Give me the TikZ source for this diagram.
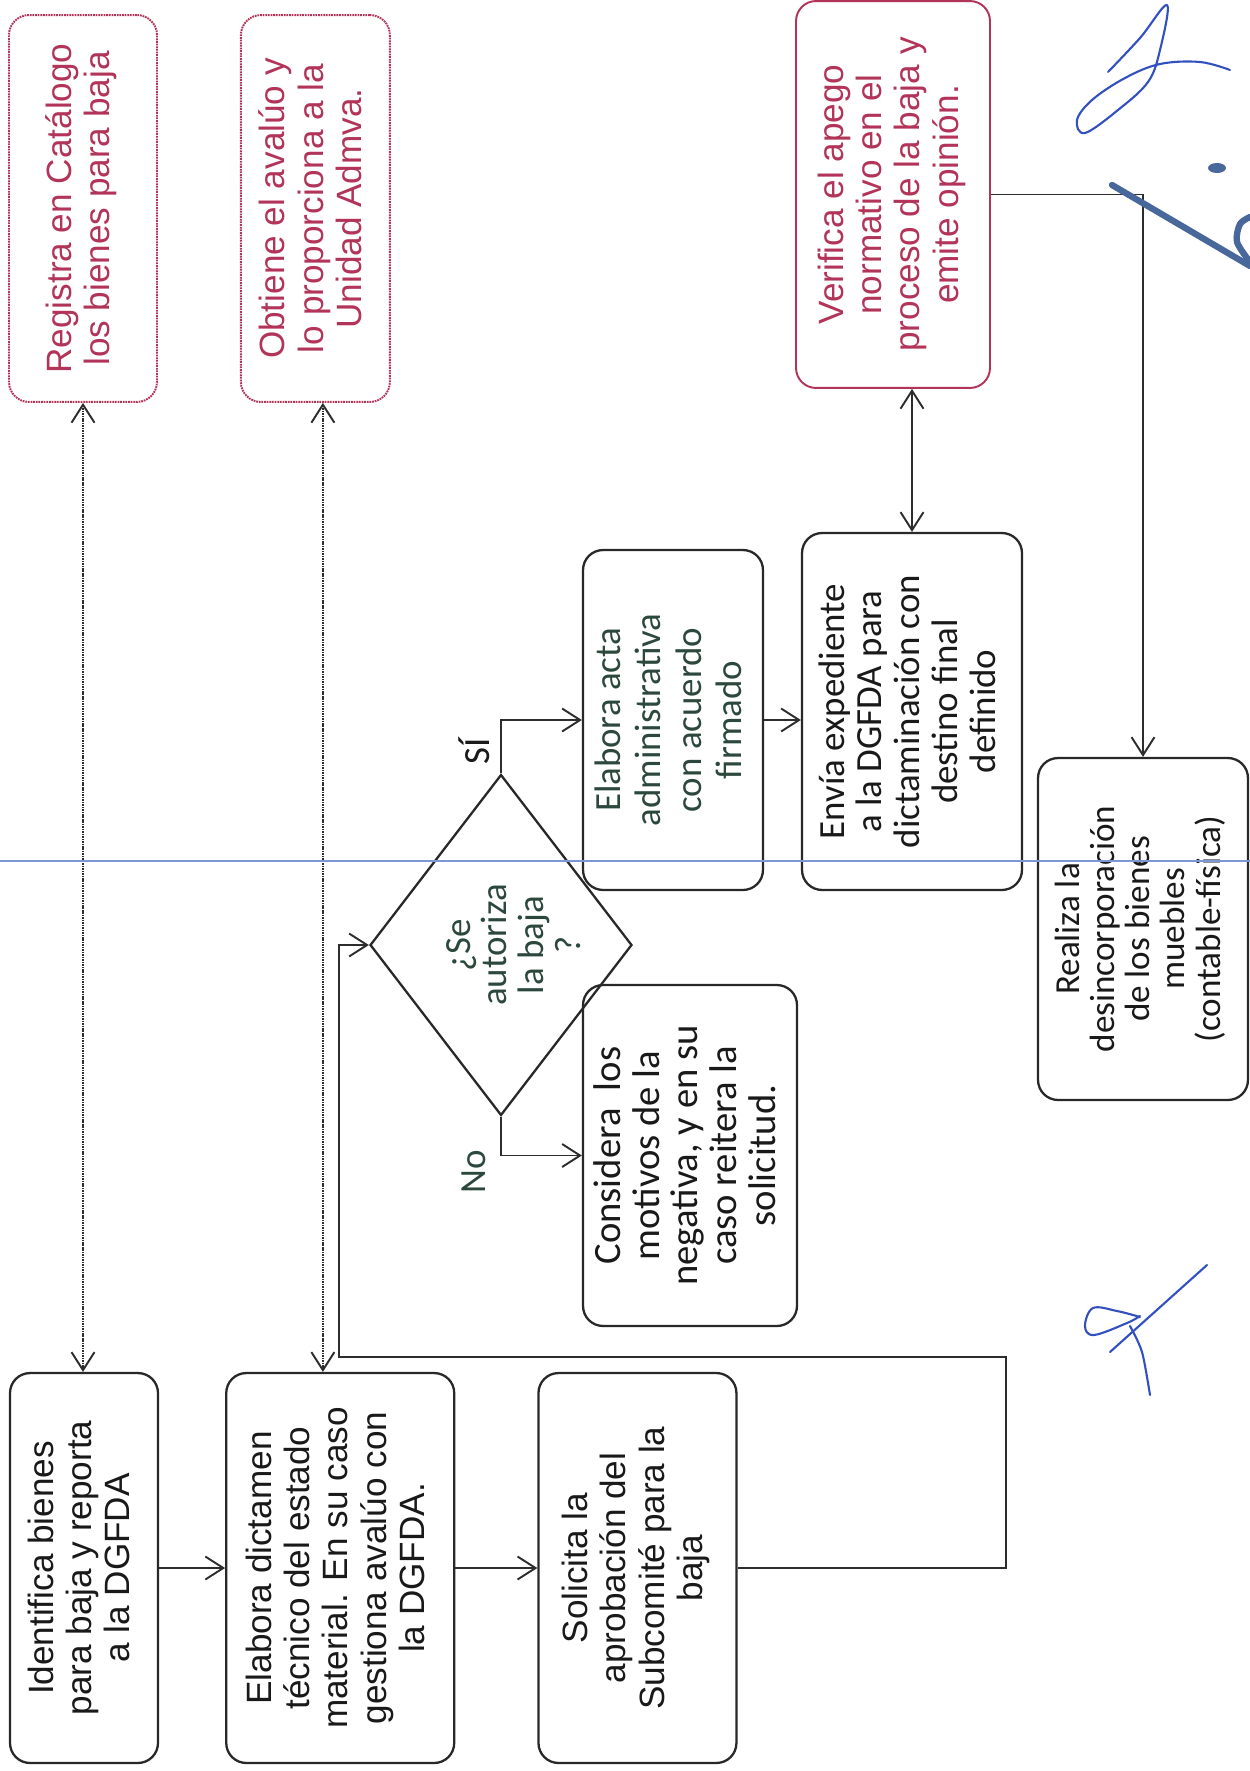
\documentclass[tikz,border=0pt]{standalone}
\usepackage{fontspec}
\setmainfont{Liberation Sans}
\newfontfamily\calibfont{Carlito}
\usepackage{graphicx}
\usetikzlibrary{positioning, arrows.meta, shapes.geometric}
\definecolor{rojo}{RGB}{178,52,88}
\definecolor{borde}{RGB}{40,40,40}
\definecolor{tinta}{RGB}{25,25,25}
\definecolor{verdeosc}{RGB}{44,72,60}
\definecolor{linea}{RGB}{45,45,45}
\definecolor{guia}{RGB}{125,150,215}
\definecolor{firma}{RGB}{50,80,190}
\definecolor{firmab}{RGB}{72,104,155}
\newcommand{\vtxt}[1]{\rotatebox{90}{\begin{tabular}{@{}c@{}}#1\end{tabular}}}
\tikzset{
  redbox/.style   = {draw=rojo, line width=1.1pt, rounded corners=0.4cm, text=rojo, inner sep=0pt, font={\fontsize{20}{21.8}\selectfont}},
  reddot/.style   = {redbox, dash pattern=on 1pt off 0.5pt},
  procbox/.style  = {draw=borde, line width=1.3pt, rounded corners=0.4cm, text=tinta, inner sep=0pt, font={\fontsize{20}{21.8}\selectfont}},
  procboxc/.style = {procbox, font={\calibfont\fontsize{21}{21.5}\selectfont}},
  decision/.style = {draw=borde, line width=1.3pt, diamond, inner sep=0pt, minimum width=5.24cm, minimum height=6.82cm},
  dectext/.style  = {text=verdeosc, inner sep=0pt, font={\calibfont\fontsize{21}{21}\selectfont}},
  lbl/.style      = {text=tinta, inner sep=0pt, font={\calibfont\fontsize{21}{21}\selectfont}},
  arrow/.style    = {-{Straight Barb[length=0.36cm, width=0.46cm]}, draw=linea, line width=1.1pt},
  dotarrow/.style = {{Straight Barb[length=0.36cm, width=0.46cm]}-{Straight Barb[length=0.36cm, width=0.46cm]}, draw=linea, line width=1.1pt, dash pattern=on 0.9pt off 0.5pt},
  sig/.style      = {draw=firma, line width=1.2pt, line cap=round, line join=round}
}

\begin{document}
\begin{tikzpicture}[x=0.02cm, y=-0.02cm]
  \useasboundingbox (0,0) rectangle (1250,1771);

  % top row
  \node[reddot, minimum width=2.96cm, minimum height=7.74cm] (registra) at (83,208.5) {\vtxt{Registra en Catálogo\\los bienes para baja}};
  \node[reddot, minimum width=2.98cm, minimum height=7.74cm, right=1.64cm of registra] (obtiene) {\vtxt{Obtiene el avalúo y\\lo proporciona a la\\Unidad Admva.}};
  \node[redbox, minimum width=3.88cm, minimum height=7.74cm] (verifica) at (893,194.5) {\vtxt{Verifica el apego\\normativo en el\\proceso de la baja y\\emite opinión.}};

  % bottom row
  \node[procbox, minimum width=2.96cm, minimum height=7.8cm] (identifica) at (84,1568) {\vtxt{Identifica bienes\\para baja y reporta\\a la DGFDA}};
  \node[procbox, minimum width=4.56cm, minimum height=7.8cm, right=1.32cm of identifica] (dictamen) {\vtxt{Elabora  dictamen\\técnico del estado\\material.  En su caso\\gestiona avalúo con\\la DGFDA.}};
  \node[procbox, minimum width=3.96cm, minimum height=7.8cm, right=1.64cm of dictamen] (solicita) {\vtxt{Solicita la\\aprobación del\\Subcomité para la\\baja}};

  % decision and branches
  \node[decision] (autoriza) at (501,945) {};
  \node[dectext] (autorizatxt) at (518,945) {\vtxt{¿Se\\autoriza\\la baja\\?}};
  \node[procboxc, text=verdeosc, minimum width=3.6cm, minimum height=6.8cm, font={\calibfont\fontsize{21}{23}\selectfont}] (acta) at (673,720) {\vtxt{Elabora acta\\administrativa\\con acuerdo\\firmado}};
  \node[procboxc, minimum width=4.28cm, minimum height=6.82cm, font={\calibfont\fontsize{22}{22}\selectfont}] (considera) at (690,1155.5) {\vtxt{Considera\ \ los\\motivos de la\\negativa, y en su\\caso reitera la\\solicitud.}};
  \node[procboxc, minimum width=4.4cm, minimum height=7.14cm] (envia) at (912,711.5) {\vtxt{Envía expediente\\a la DGFDA para\\dictaminación con\\destino final\\definido}};
  \node[procboxc, minimum width=4.2cm, minimum height=6.84cm, font={\calibfont\fontsize{20}{20}\selectfont}] (realiza) at (1143,929) {\vtxt{Realiza la\\desincorporación\\de los bienes\\muebles\\(contable-física)}};

  \node[lbl] (si) at (474,751) {\rotatebox{90}{SÍ}};
  \node[lbl, text=verdeosc] (no) at (474,1172) {\rotatebox{90}{No}};

  % connectors
  \draw[arrow] (identifica) -- (dictamen);
  \draw[arrow] (dictamen) -- (solicita);
  \coordinate (vueltaR) at (1006,1357);
  \coordinate (vueltaL) at (339,1357);
  \draw[arrow] (solicita.east) -| (vueltaR) -- (vueltaL) |- (autoriza.west);
  \draw[arrow] (autoriza.north) |- (acta.west);
  \draw[arrow] (autoriza.south) |- (considera.west);
  \draw[arrow] (acta.east) -- (acta.east -| envia.west);
  \draw[arrow, {Straight Barb[length=0.36cm, width=0.46cm]}-{Straight Barb[length=0.36cm, width=0.46cm]}] (verifica.south -| envia.north) -- (envia.north);
  \draw[arrow] (verifica.east) -| (realiza.north);
  \draw[dotarrow] (registra.south) -- (registra.south |- identifica.north);
  \draw[dotarrow] ([xshift=0.15cm]obtiene.south) -- ([xshift=0.15cm]obtiene.south |- dictamen.north);

  % page guide and signatures
  \draw[guia, line width=0.6pt] (0,861) -- (1250,861);
  \draw[sig] plot[smooth, tension=0.6] coordinates {(1108,72) (1140,38) (1167,5) (1160,50) (1148,82) (1118,110) (1085,133) (1077,120) (1092,100) (1125,78) (1160,64) (1200,62) (1230,70)};
  \draw[sig, draw=firmab, line width=3.6pt] (1112,185) -- (1250,266);
  \draw[sig, draw=firmab, line width=3.6pt] plot[smooth] coordinates {(1250,217) (1240,224) (1237,242) (1250,262)};
  \fill[firmab] (1217,168) ellipse (9 and 5);
  \draw[sig] (1207,1265) -- (1110,1352);
  \draw[sig] plot[smooth, tension=0.6] coordinates {(1140,1317) (1117,1311) (1093,1308) (1085,1326) (1094,1335) (1127,1323) (1140,1316)};
  \draw[sig] plot[smooth] coordinates {(1130,1326) (1142,1352) (1150,1395)};
\end{tikzpicture}
\end{document}
